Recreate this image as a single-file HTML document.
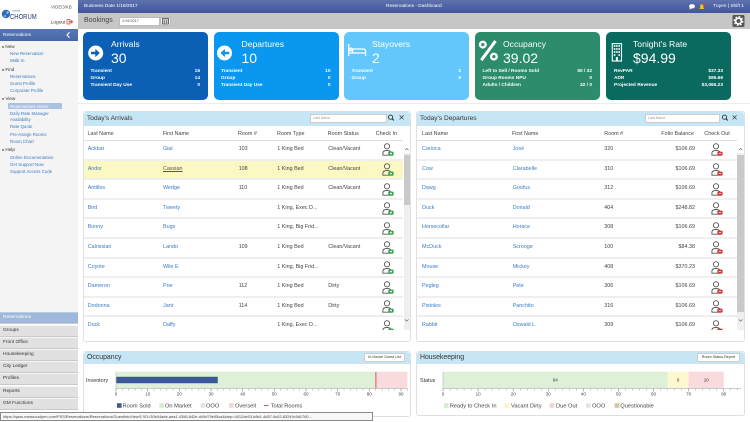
<!DOCTYPE html>
<html><head><meta charset="utf-8"><style>
*{box-sizing:border-box;margin:0;padding:0}
html,body{width:750px;height:422px;overflow:hidden}
body{position:relative;font-family:"Liberation Sans",Arial,sans-serif;background:#fff;color:#333}
.a{position:absolute;white-space:nowrap}
.sb{position:absolute;left:10px;font-size:4.4px;line-height:7px;color:#3b7bc4;white-space:nowrap}
.sh{position:absolute;left:2px;font-size:4.6px;line-height:7px;color:#333;white-space:nowrap}
.sh i{font-style:normal;font-weight:bold;margin-right:1.2px;font-size:4px}
.bm{position:absolute;left:0;width:78px;height:12.2px;background:#e1e1e1;border-top:1px solid #f4f4f4;border-bottom:1px solid #c9c9c9;font-size:4.8px;line-height:10px;padding-left:3px;color:#333}
.card{position:absolute;top:32px;width:125px;height:68px;border-radius:5px;color:#fff}
.ct{position:absolute;left:28px;top:7px;font-size:8.6px;line-height:10px;white-space:nowrap}
.cn{position:absolute;left:28px;top:19px;font-size:14px;line-height:14px}
.cr{position:absolute;left:7.5px;right:8px;font-size:4.8px;line-height:7px;font-weight:bold;height:7px;white-space:nowrap}
.cr b{position:absolute;right:0;top:0}
.pn{position:absolute;border:1px solid #e0e0e0;border-radius:3px;background:#fff}
.pt{position:absolute;left:0;top:0;right:0;height:13.4px;background:#c6e6f6;border-radius:3px 3px 0 0}
.ptt{position:absolute;left:3px;top:2.8px;font-size:6.6px;line-height:8px;color:#333;white-space:nowrap}
.srch{position:absolute;height:8.5px;background:#fff;border:1px solid #ccc;font-size:3.6px;line-height:6.5px;color:#999;padding-left:2px}
.ch{position:absolute;top:130.5px;font-size:5.4px;line-height:7px;color:#444;white-space:nowrap}
.tb{position:absolute;top:141px;height:189px;overflow:hidden}
.r{position:absolute;left:0;height:19.6px;border-bottom:2px solid #efefef;font-size:5.4px;line-height:17.6px;color:#444}
.r span{position:absolute;top:0;white-space:nowrap}
.l{color:#3b7cc6}
.pi{position:absolute;top:2.4px}
.btn{position:absolute;height:8.5px;background:#fff;border:1px solid #ccc;border-radius:1.5px;font-size:3.7px;line-height:6.5px;text-align:center;color:#333}
</style></head><body>

<!-- logo area -->
<svg class="a" style="left:0;top:0" width="78" height="29">
<circle cx="6" cy="14" r="4.2" fill="#2d6cb9"/>
<circle cx="7.5" cy="12.5" r="1.3" fill="#8fbde8"/>
<circle cx="5" cy="16" r="1" fill="#8fbde8"/>
<text x="12" y="11.5" font-size="2.8" fill="#3a7bc4" font-family="Liberation Sans">maxial</text>
<text x="10" y="19.2" font-size="7.6" fill="#22386e" font-family="Liberation Sans" textLength="26.7" lengthAdjust="spacingAndGlyphs">CHORUM</text>
<text x="51" y="8.3" font-size="4.4" fill="#555" font-family="Liberation Sans">VIDEO/KB</text>
<text x="50.7" y="23.6" font-size="4.8" fill="#333" font-family="Liberation Sans">Logout</text>
<rect x="67" y="19.5" width="3" height="4.5" fill="none" stroke="#d33" stroke-width=".7"/>
<path d="M68.5 21.8h4M71.2 20.4l1.4 1.4-1.4 1.4" fill="none" stroke="#d33" stroke-width=".8"/>
</svg>

<!-- top bars -->
<div class="a" style="left:78px;top:0;width:672px;height:12.7px;background:linear-gradient(#5d72ae,#40569a)"></div>
<div class="a" style="left:78px;top:12.7px;width:672px;height:16.6px;background:#c6c6c6"></div>
<div class="a" style="left:84px;top:3px;font-size:4.8px;line-height:7px;color:#fff">Business Date 1/19/2017</div>
<div class="a" style="left:386px;top:3px;font-size:4.8px;line-height:7px;color:#fff">Reservations - Dashboard</div>
<div class="a" style="left:713.3px;top:3px;font-size:4.8px;line-height:7px;color:#fff">Tuyen | Shift 1</div>
<div class="a" style="left:84px;top:17px;font-size:7px;line-height:8px;color:#444">Bookings</div>
<div class="a" style="left:119px;top:16.7px;width:41px;height:9px;background:#fff;border:1px solid #bbb;font-size:3.8px;line-height:7px;color:#555;padding-left:2px">1/19/2017</div>
<div class="a" style="left:160px;top:16.7px;width:11px;height:9px;background:#eee;border:1px solid #bbb"></div>
<div class="a" style="left:78px;top:103px;width:672px;height:1px;background:#ececec"></div>

<!-- sidebar -->
<div class="a" style="left:0;top:29.3px;width:78px;height:11.4px;background:linear-gradient(#5676b4,#4767a8)"></div>
<div class="a" style="left:3px;top:31.5px;font-size:4.8px;line-height:7px;color:#fff">Reservations</div>
<div class="a" style="left:0;top:40.7px;width:78px;height:271.6px;background:#f4f4f4"></div>
<div class="a" style="left:8px;top:102.7px;width:54.3px;height:6.6px;background:#a9c1e2;border-radius:1px"></div>

<div class="sh" style="top:43.2px"><i>v</i>New</div>
<div class="sb" style="top:49.8px">New Reservation</div>
<div class="sb" style="top:57.2px">Walk In</div>
<div class="sh" style="top:65.8px"><i>v</i>Find</div>
<div class="sb" style="top:72.5px">Reservations</div>
<div class="sb" style="top:79.5px">Guest Profile</div>
<div class="sb" style="top:86.5px">Corporate Profile</div>
<div class="sh" style="top:95.2px"><i>v</i>View</div>
<div class="sb" style="top:102.5px;color:#fff">Reservations Home</div>
<div class="sb" style="top:109.5px">Daily Rate Manager</div>
<div class="sb" style="top:116.2px">Availability</div>
<div class="sb" style="top:123.2px">Rate Quote</div>
<div class="sb" style="top:130.5px">Pre-Assign Rooms</div>
<div class="sb" style="top:137.5px">Room Chart</div>
<div class="sh" style="top:146.2px"><i>v</i>Help</div>
<div class="sb" style="top:153.5px">Online Documentation</div>
<div class="sb" style="top:160.5px">Get Support Now</div>
<div class="sb" style="top:167.5px">Support Access Code</div>

<div class="bm" style="top:312.3px;background:#9fb9dc;color:#fff;border-top-color:#b8cce6">Reservations</div>
<div class="bm" style="top:324.5px">Groups</div>
<div class="bm" style="top:336.7px">Front Office</div>
<div class="bm" style="top:348.9px">Housekeeping</div>
<div class="bm" style="top:361.1px">City Ledger</div>
<div class="bm" style="top:373.3px">Profiles</div>
<div class="bm" style="top:385.5px">Reports</div>
<div class="bm" style="top:397.7px">GM Functions</div>

<!-- cards -->
<div class="card" style="left:83px;background:#0b5fb5">
 <div class="ct">Arrivals</div><div class="cn">30</div>
 <div class="cr" style="top:36.2px">Transient<b>16</b></div>
 <div class="cr" style="top:43.3px">Group<b>14</b></div>
 <div class="cr" style="top:50.2px">Transient Day Use<b>0</b></div>
</div>
<div class="card" style="left:213.5px;background:#0997ef">
 <div class="ct">Departures</div><div class="cn">10</div>
 <div class="cr" style="top:36.2px">Transient<b>10</b></div>
 <div class="cr" style="top:43.3px">Group<b>0</b></div>
 <div class="cr" style="top:50.2px">Transient Day Use<b>0</b></div>
</div>
<div class="card" style="left:344px;background:#64c7fc">
 <div class="ct">Stayovers</div><div class="cn">2</div>
 <div class="cr" style="top:36.2px">Transient<b>2</b></div>
 <div class="cr" style="top:43.3px">Group<b>0</b></div>
</div>
<div class="card" style="left:475px;background:#2c8c6b">
 <div class="ct">Occupancy</div><div class="cn">39.02</div>
 <div class="cr" style="top:36.2px">Left to Sell / Rooms Sold<b>50 / 32</b></div>
 <div class="cr" style="top:43.3px">Group Rooms NPU<b>0</b></div>
 <div class="cr" style="top:50.2px">Adults / Children<b>32 / 0</b></div>
</div>
<div class="card" style="left:606px;background:#0b6a5f">
 <div class="ct" style="left:27px">Tonight's Rate</div><div class="cn" style="left:27px">$94.99</div>
 <div class="cr" style="top:36.2px;left:8px">RevPAR<b>$37.33</b></div>
 <div class="cr" style="top:43.3px;left:8px">ADR<b>$95.66</b></div>
 <div class="cr" style="top:50.2px;left:8px">Projected Revenue<b>$3,065.23</b></div>
</div>

<!-- Arrivals panel -->
<div class="pn" style="left:83px;top:111.3px;width:328px;height:230.5px">
 <div class="pt"><div class="ptt">Today's Arrivals</div></div>
</div>
<div class="srch" style="left:310px;top:114px;width:77.3px">Last Name</div>
<div class="ch" style="left:87.5px">Last Name</div>
<div class="ch" style="left:162.7px">First Name</div>
<div class="ch" style="left:238px">Room #</div>
<div class="ch" style="left:277px">Room Type</div>
<div class="ch" style="left:327.7px">Room Status</div>
<div class="ch" style="left:375.7px">Check In</div>
<div class="a" style="left:84px;top:140px;width:319px;height:1px;background:#ddd"></div>

<div class="tb" style="left:84px;width:319px">
<div class="r" style="top:0;width:319px"><span class="l" style="left:3.7px">Ackbar</span><span class="l" style="left:79px">Gial</span><span style="left:154.7px">103</span><span style="left:193.3px">1 King Bed</span><span style="left:244.3px">Clean/Vacant</span><svg class="pi" style="left:297.5px" width="12" height="13" viewBox="0 0 12 13"><circle cx="5" cy="3.3" r="2.6" fill="none" stroke="#555" stroke-width=".9"/><path d="M.9 12.2V10.2Q.9 7.5 5 7.5T9.1 10.2V12.2Z" fill="none" stroke="#555" stroke-width=".9"/><rect x="6.3" y="8.6" width="5.3" height="4" rx=".9" fill="#2e9e48"/><path d="M8.95 9.4v2.4M7.75 10.6h2.4" stroke="#fff" stroke-width=".7"/></svg></div>
<div class="r" style="top:19.6px;width:319px;background:#fcf8c4"><span class="l" style="left:3.7px">Andor</span><span style="left:79px;color:#555;text-decoration:underline">Cassian</span><span style="left:154.7px">108</span><span style="left:193.3px">1 King Bed</span><span style="left:244.3px">Clean/Vacant</span><svg class="pi" style="left:297.5px" width="12" height="13" viewBox="0 0 12 13"><circle cx="5" cy="3.3" r="2.6" fill="none" stroke="#555" stroke-width=".9"/><path d="M.9 12.2V10.2Q.9 7.5 5 7.5T9.1 10.2V12.2Z" fill="none" stroke="#555" stroke-width=".9"/><rect x="6.3" y="8.6" width="5.3" height="4" rx=".9" fill="#2e9e48"/><path d="M8.95 9.4v2.4M7.75 10.6h2.4" stroke="#fff" stroke-width=".7"/></svg></div>
<div class="r" style="top:39.2px;width:319px"><span class="l" style="left:3.7px">Antilles</span><span class="l" style="left:79px">Wedge</span><span style="left:154.7px">110</span><span style="left:193.3px">1 King Bed</span><span style="left:244.3px">Clean/Vacant</span><svg class="pi" style="left:297.5px" width="12" height="13" viewBox="0 0 12 13"><circle cx="5" cy="3.3" r="2.6" fill="none" stroke="#555" stroke-width=".9"/><path d="M.9 12.2V10.2Q.9 7.5 5 7.5T9.1 10.2V12.2Z" fill="none" stroke="#555" stroke-width=".9"/><rect x="6.3" y="8.6" width="5.3" height="4" rx=".9" fill="#2e9e48"/><path d="M8.95 9.4v2.4M7.75 10.6h2.4" stroke="#fff" stroke-width=".7"/></svg></div>
<div class="r" style="top:58.8px;width:319px"><span class="l" style="left:3.7px">Bird</span><span class="l" style="left:79px">Tweety</span><span style="left:193.3px">1 King, Exec D...</span><svg class="pi" style="left:297.5px" width="12" height="13" viewBox="0 0 12 13"><circle cx="5" cy="3.3" r="2.6" fill="none" stroke="#555" stroke-width=".9"/><path d="M.9 12.2V10.2Q.9 7.5 5 7.5T9.1 10.2V12.2Z" fill="none" stroke="#555" stroke-width=".9"/><rect x="6.3" y="8.6" width="5.3" height="4" rx=".9" fill="#2e9e48"/><path d="M8.95 9.4v2.4M7.75 10.6h2.4" stroke="#fff" stroke-width=".7"/></svg></div>
<div class="r" style="top:78.4px;width:319px"><span class="l" style="left:3.7px">Bunny</span><span class="l" style="left:79px">Bugs</span><span style="left:193.3px">1 King, Big Frid...</span><svg class="pi" style="left:297.5px" width="12" height="13" viewBox="0 0 12 13"><circle cx="5" cy="3.3" r="2.6" fill="none" stroke="#555" stroke-width=".9"/><path d="M.9 12.2V10.2Q.9 7.5 5 7.5T9.1 10.2V12.2Z" fill="none" stroke="#555" stroke-width=".9"/><rect x="6.3" y="8.6" width="5.3" height="4" rx=".9" fill="#2e9e48"/><path d="M8.95 9.4v2.4M7.75 10.6h2.4" stroke="#fff" stroke-width=".7"/></svg></div>
<div class="r" style="top:98px;width:319px"><span class="l" style="left:3.7px">Calrissian</span><span class="l" style="left:79px">Lando</span><span style="left:154.7px">109</span><span style="left:193.3px">1 King Bed</span><span style="left:244.3px">Clean/Vacant</span><svg class="pi" style="left:297.5px" width="12" height="13" viewBox="0 0 12 13"><circle cx="5" cy="3.3" r="2.6" fill="none" stroke="#555" stroke-width=".9"/><path d="M.9 12.2V10.2Q.9 7.5 5 7.5T9.1 10.2V12.2Z" fill="none" stroke="#555" stroke-width=".9"/><rect x="6.3" y="8.6" width="5.3" height="4" rx=".9" fill="#2e9e48"/><path d="M8.95 9.4v2.4M7.75 10.6h2.4" stroke="#fff" stroke-width=".7"/></svg></div>
<div class="r" style="top:117.6px;width:319px"><span class="l" style="left:3.7px">Coyote</span><span class="l" style="left:79px">Wile E</span><span style="left:193.3px">1 King, Big Frid...</span><svg class="pi" style="left:297.5px" width="12" height="13" viewBox="0 0 12 13"><circle cx="5" cy="3.3" r="2.6" fill="none" stroke="#555" stroke-width=".9"/><path d="M.9 12.2V10.2Q.9 7.5 5 7.5T9.1 10.2V12.2Z" fill="none" stroke="#555" stroke-width=".9"/><rect x="6.3" y="8.6" width="5.3" height="4" rx=".9" fill="#2e9e48"/><path d="M8.95 9.4v2.4M7.75 10.6h2.4" stroke="#fff" stroke-width=".7"/></svg></div>
<div class="r" style="top:137.2px;width:319px"><span class="l" style="left:3.7px">Dameron</span><span class="l" style="left:79px">Poe</span><span style="left:154.7px">112</span><span style="left:193.3px">1 King Bed</span><span style="left:244.3px">Dirty</span><svg class="pi" style="left:297.5px" width="12" height="13" viewBox="0 0 12 13"><circle cx="5" cy="3.3" r="2.6" fill="none" stroke="#555" stroke-width=".9"/><path d="M.9 12.2V10.2Q.9 7.5 5 7.5T9.1 10.2V12.2Z" fill="none" stroke="#555" stroke-width=".9"/><rect x="6.3" y="8.6" width="5.3" height="4" rx=".9" fill="#2e9e48"/><path d="M8.95 9.4v2.4M7.75 10.6h2.4" stroke="#fff" stroke-width=".7"/></svg></div>
<div class="r" style="top:156.8px;width:319px"><span class="l" style="left:3.7px">Dodonna</span><span class="l" style="left:79px">Jant</span><span style="left:154.7px">114</span><span style="left:193.3px">1 King Bed</span><span style="left:244.3px">Dirty</span><svg class="pi" style="left:297.5px" width="12" height="13" viewBox="0 0 12 13"><circle cx="5" cy="3.3" r="2.6" fill="none" stroke="#555" stroke-width=".9"/><path d="M.9 12.2V10.2Q.9 7.5 5 7.5T9.1 10.2V12.2Z" fill="none" stroke="#555" stroke-width=".9"/><rect x="6.3" y="8.6" width="5.3" height="4" rx=".9" fill="#2e9e48"/><path d="M8.95 9.4v2.4M7.75 10.6h2.4" stroke="#fff" stroke-width=".7"/></svg></div>
<div class="r" style="top:176.4px;width:319px"><span class="l" style="left:3.7px">Duck</span><span class="l" style="left:79px">Daffy</span><span style="left:193.3px">1 King, Exec D...</span><svg class="pi" style="left:297.5px" width="12" height="13" viewBox="0 0 12 13"><circle cx="5" cy="3.3" r="2.6" fill="none" stroke="#555" stroke-width=".9"/><path d="M.9 12.2V10.2Q.9 7.5 5 7.5T9.1 10.2V12.2Z" fill="none" stroke="#555" stroke-width=".9"/><rect x="6.3" y="8.6" width="5.3" height="4" rx=".9" fill="#2e9e48"/><path d="M8.95 9.4v2.4M7.75 10.6h2.4" stroke="#fff" stroke-width=".7"/></svg></div>
</div>

<!-- Departures panel -->
<div class="pn" style="left:416px;top:111.3px;width:329px;height:230.5px">
 <div class="pt"><div class="ptt">Today's Departures</div></div>
</div>
<div class="srch" style="left:645px;top:114px;width:75px">Last Name</div>
<div class="ch" style="left:422px">Last Name</div>
<div class="ch" style="left:512px">First Name</div>
<div class="ch" style="left:604.3px">Room #</div>
<div class="ch" style="left:661.3px">Folio Balance</div>
<div class="ch" style="left:704.3px">Check Out</div>
<div class="a" style="left:417px;top:140px;width:320px;height:1px;background:#ddd"></div>

<div class="tb" style="left:417px;width:320px">
<div class="r" style="top:0;width:320px"><span class="l" style="left:5px">Carioca</span><span class="l" style="left:95.7px">José</span><span style="left:187.3px">320</span><span style="right:42px">$106.69</span><svg class="pi" style="left:294px" width="12" height="13" viewBox="0 0 12 13"><circle cx="5" cy="3.3" r="2.6" fill="none" stroke="#555" stroke-width=".9"/><path d="M.9 12.2V10.2Q.9 7.5 5 7.5T9.1 10.2V12.2Z" fill="none" stroke="#555" stroke-width=".9"/><rect x="6.3" y="8.6" width="5.3" height="4" rx=".9" fill="#d83838"/><path d="M7.75 10.6h2.4" stroke="#fff" stroke-width=".7"/></svg></div>
<div class="r" style="top:19.6px;width:320px"><span class="l" style="left:5px">Cow</span><span class="l" style="left:95.7px">Clarabelle</span><span style="left:187.3px">310</span><span style="right:42px">$106.69</span><svg class="pi" style="left:294px" width="12" height="13" viewBox="0 0 12 13"><circle cx="5" cy="3.3" r="2.6" fill="none" stroke="#555" stroke-width=".9"/><path d="M.9 12.2V10.2Q.9 7.5 5 7.5T9.1 10.2V12.2Z" fill="none" stroke="#555" stroke-width=".9"/><rect x="6.3" y="8.6" width="5.3" height="4" rx=".9" fill="#d83838"/><path d="M7.75 10.6h2.4" stroke="#fff" stroke-width=".7"/></svg></div>
<div class="r" style="top:39.2px;width:320px"><span class="l" style="left:5px">Dawg</span><span class="l" style="left:95.7px">Goofus</span><span style="left:187.3px">312</span><span style="right:42px">$106.69</span><svg class="pi" style="left:294px" width="12" height="13" viewBox="0 0 12 13"><circle cx="5" cy="3.3" r="2.6" fill="none" stroke="#555" stroke-width=".9"/><path d="M.9 12.2V10.2Q.9 7.5 5 7.5T9.1 10.2V12.2Z" fill="none" stroke="#555" stroke-width=".9"/><rect x="6.3" y="8.6" width="5.3" height="4" rx=".9" fill="#d83838"/><path d="M7.75 10.6h2.4" stroke="#fff" stroke-width=".7"/></svg></div>
<div class="r" style="top:58.8px;width:320px"><span class="l" style="left:5px">Duck</span><span class="l" style="left:95.7px">Donald</span><span style="left:187.3px">404</span><span style="right:42px">$248.82</span><svg class="pi" style="left:294px" width="12" height="13" viewBox="0 0 12 13"><circle cx="5" cy="3.3" r="2.6" fill="none" stroke="#555" stroke-width=".9"/><path d="M.9 12.2V10.2Q.9 7.5 5 7.5T9.1 10.2V12.2Z" fill="none" stroke="#555" stroke-width=".9"/><rect x="6.3" y="8.6" width="5.3" height="4" rx=".9" fill="#d83838"/><path d="M7.75 10.6h2.4" stroke="#fff" stroke-width=".7"/></svg></div>
<div class="r" style="top:78.4px;width:320px"><span class="l" style="left:5px">Horsecollar</span><span class="l" style="left:95.7px">Horace</span><span style="left:187.3px">308</span><span style="right:42px">$106.69</span><svg class="pi" style="left:294px" width="12" height="13" viewBox="0 0 12 13"><circle cx="5" cy="3.3" r="2.6" fill="none" stroke="#555" stroke-width=".9"/><path d="M.9 12.2V10.2Q.9 7.5 5 7.5T9.1 10.2V12.2Z" fill="none" stroke="#555" stroke-width=".9"/><rect x="6.3" y="8.6" width="5.3" height="4" rx=".9" fill="#d83838"/><path d="M7.75 10.6h2.4" stroke="#fff" stroke-width=".7"/></svg></div>
<div class="r" style="top:98px;width:320px"><span class="l" style="left:5px">McDuck</span><span class="l" style="left:95.7px">Scrooge</span><span style="left:187.3px">100</span><span style="right:42px">$84.38</span><svg class="pi" style="left:294px" width="12" height="13" viewBox="0 0 12 13"><circle cx="5" cy="3.3" r="2.6" fill="none" stroke="#555" stroke-width=".9"/><path d="M.9 12.2V10.2Q.9 7.5 5 7.5T9.1 10.2V12.2Z" fill="none" stroke="#555" stroke-width=".9"/><rect x="6.3" y="8.6" width="5.3" height="4" rx=".9" fill="#d83838"/><path d="M7.75 10.6h2.4" stroke="#fff" stroke-width=".7"/></svg></div>
<div class="r" style="top:117.6px;width:320px"><span class="l" style="left:5px">Mouse</span><span class="l" style="left:95.7px">Mickey</span><span style="left:187.3px">408</span><span style="right:42px">$370.23</span><svg class="pi" style="left:294px" width="12" height="13" viewBox="0 0 12 13"><circle cx="5" cy="3.3" r="2.6" fill="none" stroke="#555" stroke-width=".9"/><path d="M.9 12.2V10.2Q.9 7.5 5 7.5T9.1 10.2V12.2Z" fill="none" stroke="#555" stroke-width=".9"/><rect x="6.3" y="8.6" width="5.3" height="4" rx=".9" fill="#d83838"/><path d="M7.75 10.6h2.4" stroke="#fff" stroke-width=".7"/></svg></div>
<div class="r" style="top:137.2px;width:320px"><span class="l" style="left:5px">Pegleg</span><span class="l" style="left:95.7px">Pete</span><span style="left:187.3px">306</span><span style="right:42px">$106.69</span><svg class="pi" style="left:294px" width="12" height="13" viewBox="0 0 12 13"><circle cx="5" cy="3.3" r="2.6" fill="none" stroke="#555" stroke-width=".9"/><path d="M.9 12.2V10.2Q.9 7.5 5 7.5T9.1 10.2V12.2Z" fill="none" stroke="#555" stroke-width=".9"/><rect x="6.3" y="8.6" width="5.3" height="4" rx=".9" fill="#d83838"/><path d="M7.75 10.6h2.4" stroke="#fff" stroke-width=".7"/></svg></div>
<div class="r" style="top:156.8px;width:320px"><span class="l" style="left:5px">Pistoles</span><span class="l" style="left:95.7px">Panchito</span><span style="left:187.3px">316</span><span style="right:42px">$106.69</span><svg class="pi" style="left:294px" width="12" height="13" viewBox="0 0 12 13"><circle cx="5" cy="3.3" r="2.6" fill="none" stroke="#555" stroke-width=".9"/><path d="M.9 12.2V10.2Q.9 7.5 5 7.5T9.1 10.2V12.2Z" fill="none" stroke="#555" stroke-width=".9"/><rect x="6.3" y="8.6" width="5.3" height="4" rx=".9" fill="#d83838"/><path d="M7.75 10.6h2.4" stroke="#fff" stroke-width=".7"/></svg></div>
<div class="r" style="top:176.4px;width:320px"><span class="l" style="left:5px">Rabbit</span><span class="l" style="left:95.7px">Oswald L</span><span style="left:187.3px">309</span><span style="right:42px">$106.69</span><svg class="pi" style="left:294px" width="12" height="13" viewBox="0 0 12 13"><circle cx="5" cy="3.3" r="2.6" fill="none" stroke="#555" stroke-width=".9"/><path d="M.9 12.2V10.2Q.9 7.5 5 7.5T9.1 10.2V12.2Z" fill="none" stroke="#555" stroke-width=".9"/><rect x="6.3" y="8.6" width="5.3" height="4" rx=".9" fill="#d83838"/><path d="M7.75 10.6h2.4" stroke="#fff" stroke-width=".7"/></svg></div>
</div>

<!-- scrollbars -->
<div class="a" style="left:403.5px;top:153px;width:6.5px;height:177px;background:#efefef"></div>
<div class="a" style="left:403.5px;top:155px;width:6.5px;height:50px;background:#c9c9c9"></div>
<div class="a" style="left:737.3px;top:153px;width:6.5px;height:177px;background:#efefef"></div>
<div class="a" style="left:737.3px;top:155px;width:6.5px;height:157px;background:#c9c9c9"></div>

<!-- bottom panels -->
<div class="pn" style="left:83px;top:350.5px;width:328px;height:66px">
 <div class="pt" style="height:12.8px"><div class="ptt" style="top:2.5px;font-size:6.9px">Occupancy</div></div>
</div>
<div class="btn" style="left:364px;top:353px;width:41px">In-House Guest List</div>
<div class="pn" style="left:416px;top:350.5px;width:329px;height:65px">
 <div class="pt" style="height:12.8px"><div class="ptt" style="top:2.5px;font-size:6.9px">Housekeeping</div></div>
</div>
<div class="btn" style="left:697px;top:353px;width:43px">Room Status Report</div>

<!-- vector overlay -->
<svg class="a" style="left:0;top:0" width="750" height="422" font-family="Liberation Sans, Arial, sans-serif">
<!-- header icons -->
<ellipse cx="692" cy="6.3" rx="3" ry="2.2" fill="#fff"/><path d="M690 7.8l-.8 1.8 2.4-1.2z" fill="#fff"/>
<path d="M699.3 9h5l-.9-1.2v-2a1.6 1.6 0 0 0-3.2 0v2z" fill="#f4c21a"/><circle cx="704" cy="4.5" r="1.2" fill="#e03a2a"/>
<rect x="732.5" y="15" width="12" height="12" rx="1.5" fill="#555"/>
<circle cx="738.5" cy="21" r="2.9" fill="none" stroke="#fff" stroke-width="1.8"/>
<circle cx="738.5" cy="21" r="4.2" fill="none" stroke="#fff" stroke-width="1.5" stroke-dasharray="1.6 1.7"/>
<!-- calendar -->
<rect x="162.5" y="18.5" width="6" height="5.5" fill="none" stroke="#333" stroke-width=".7"/><path d="M162.5 20h6M164.5 20v4M166.5 20v4M162.5 22h6" stroke="#333" stroke-width=".4"/>
<!-- sidebar chevron -->
<path d="M69.5 32.3l-2.5 2.7 2.5 2.7" fill="none" stroke="#fff" stroke-width="1.1"/>
<!-- card icons -->
<circle cx="95.7" cy="53" r="7.5" fill="#fff"/>
<path d="M91 51.7H95.3V48.9L99.8 53 95.3 57.1V54.3H91Z" fill="#0b5fb5"/>
<circle cx="224.5" cy="53" r="7.5" fill="#fff"/>
<path d="M229.2 51.7H224.9V48.9L220.4 53 224.9 57.1V54.3H229.2Z" fill="#0997ef"/>
<g fill="none" stroke="#fff" stroke-width="1.3"><path d="M348.7 44V56M348.7 53H365.6V56M352.6 53V49H363Q365.6 49 365.6 51.2V53"/><rect x="349.9" y="48.2" width="2.2" height="2.6" rx="1"/></g>
<g fill="none" stroke="#fff"><circle cx="482.8" cy="44.6" r="2.8" stroke-width="2.4"/><circle cx="493.9" cy="56.6" r="2.8" stroke-width="2.4"/><path d="M495.5 41L481.3 60.2" stroke-width="3"/></g>
<g fill="none" stroke="#fff" stroke-width="1.1"><rect x="612.3" y="43.6" width="9.2" height="17.4"/></g>
<g fill="#fff"><rect x="613.8" y="45.2" width="1.6" height="1.6"/><rect x="616.1" y="45.2" width="1.6" height="1.6"/><rect x="618.4" y="45.2" width="1.6" height="1.6"/><rect x="613.8" y="48.2" width="1.6" height="1.6"/><rect x="616.1" y="48.2" width="1.6" height="1.6"/><rect x="618.4" y="48.2" width="1.6" height="1.6"/><rect x="613.8" y="51.2" width="1.6" height="1.6"/><rect x="616.1" y="51.2" width="1.6" height="1.6"/><rect x="618.4" y="51.2" width="1.6" height="1.6"/><rect x="613.8" y="54.2" width="1.6" height="1.6"/><rect x="618.4" y="54.2" width="1.6" height="1.6"/><rect x="615.9" y="57" width="2" height="4"/></g>
<!-- search icons -->
<circle cx="390.6" cy="117.2" r="2.1" fill="none" stroke="#333" stroke-width=".9"/><path d="M392.1 118.7l1.8 1.8" stroke="#333" stroke-width="1.1"/>
<path d="M399.6 115.4l4 4M403.6 115.4l-4 4" stroke="#444" stroke-width=".8"/>
<circle cx="724.5" cy="117.2" r="2.1" fill="none" stroke="#333" stroke-width=".9"/><path d="M726 118.7l1.8 1.8" stroke="#333" stroke-width="1.1"/>
<path d="M732.6 115.4l4 4M736.6 115.4l-4 4" stroke="#444" stroke-width=".8"/>
<!-- scroll arrows -->
<path d="M405 150.2l1.8-1.8 1.8 1.8M405 319.4l1.8 1.8 1.8-1.8" fill="none" stroke="#555" stroke-width=".6"/>
<path d="M738.8 150.2l1.8-1.8 1.8 1.8M738.8 319.4l1.8 1.8 1.8-1.8" fill="none" stroke="#555" stroke-width=".6"/>

<!-- Occupancy chart -->
<text x="86" y="381.9" font-size="5.4" fill="#333">Inventory</text>
<rect x="116" y="371.7" width="259.7" height="16.3" fill="#dff0d8"/>
<rect x="376.2" y="371.7" width="31.2" height="16.3" fill="#f9dadd"/>
<line x1="375.9" y1="371.7" x2="375.9" y2="388" stroke="#e0474c" stroke-width=".9"/>
<rect x="116.5" y="377" width="101" height="6" fill="#3c5a9a" stroke="#2c4580" stroke-width=".4"/>
<line x1="116" y1="371.7" x2="116" y2="388.5" stroke="#aaa" stroke-width=".5"/>
<line x1="116" y1="388.5" x2="407.4" y2="388.5" stroke="#999" stroke-width=".5"/>
<line x1="115.75" y1="389.5" x2="408" y2="389.5" stroke="#999" stroke-width="2" stroke-dasharray="0.5 5.833"/>
<line x1="115.75" y1="390" x2="402" y2="390" stroke="#888" stroke-width="3" stroke-dasharray="0.5 31.167"/>
<g font-size="4.5" fill="#444" text-anchor="middle">
<text x="116" y="395.6">0</text><text x="147.7" y="395.6">10</text><text x="179.3" y="395.6">20</text><text x="211" y="395.6">30</text><text x="242.7" y="395.6">40</text><text x="274.3" y="395.6">50</text><text x="306" y="395.6">60</text><text x="337.7" y="395.6">70</text><text x="369.3" y="395.6">80</text><text x="401" y="395.6">90</text>
</g>
<g font-size="5.7" fill="#444">
<rect x="117" y="403.2" width="4.6" height="4.6" fill="#3c5a9a"/><text x="122.5" y="407.7">Room Sold</text>
<rect x="159.3" y="403.2" width="4.6" height="4.6" fill="#d6edcb"/><text x="165" y="407.7">On Market</text>
<rect x="200.7" y="403.2" width="4.6" height="4.6" fill="#e3e3e3"/><text x="206" y="407.7">OOO</text>
<rect x="229" y="403.2" width="4.6" height="4.6" fill="#f8d2d6"/><text x="235" y="407.7">Oversell</text>
<line x1="264" y1="405.5" x2="268.5" y2="405.5" stroke="#e0474c" stroke-width=".9"/><text x="270.7" y="407.7">Total Rooms</text>
</g>

<!-- Housekeeping chart -->
<text x="420" y="381.9" font-size="5.4" fill="#333">Status</text>
<rect x="443" y="371.7" width="224.6" height="16.3" fill="#dff0d8"/>
<rect x="667.6" y="371.7" width="21" height="16.3" fill="#fcf8cf"/>
<rect x="688.6" y="371.7" width="35.1" height="16.3" fill="#f9dadd"/>
<line x1="443" y1="371.7" x2="443" y2="388.5" stroke="#aaa" stroke-width=".5"/>
<line x1="443" y1="388.5" x2="741" y2="388.5" stroke="#999" stroke-width=".5"/>
<line x1="442.75" y1="389.5" x2="741" y2="389.5" stroke="#999" stroke-width="2" stroke-dasharray="0.5 6.518"/>
<line x1="442.75" y1="390" x2="725" y2="390" stroke="#888" stroke-width="3" stroke-dasharray="0.5 34.59"/>
<g font-size="4.5" fill="#333" text-anchor="middle">
<text x="555.3" y="381.6">64</text><text x="678.1" y="381.6">6</text><text x="706.2" y="381.6">10</text>
</g>
<g font-size="4.5" fill="#444" text-anchor="middle">
<text x="443" y="395.6">0</text><text x="478.1" y="395.6">10</text><text x="513.2" y="395.6">20</text><text x="548.3" y="395.6">30</text><text x="583.4" y="395.6">40</text><text x="618.5" y="395.6">50</text><text x="653.5" y="395.6">60</text><text x="688.6" y="395.6">70</text><text x="723.7" y="395.6">80</text>
</g>
<g font-size="5.7" fill="#444">
<rect x="444" y="403.2" width="4.6" height="4.6" fill="#d6edcb"/><text x="449.7" y="407.7">Ready to Check In</text>
<rect x="504.7" y="403.2" width="4.6" height="4.6" fill="#fcf5c0"/><text x="511" y="407.7">Vacant Dirty</text>
<rect x="549.7" y="403.2" width="4.6" height="4.6" fill="#f8d2d6"/><text x="556" y="407.7">Due Out</text>
<rect x="586" y="403.2" width="4.6" height="4.6" fill="#e3e3e3"/><text x="592" y="407.7">OOO</text>
<rect x="614.7" y="403.2" width="4.6" height="4.6" fill="#d8c39a"/><text x="620.3" y="407.7">Questionable</text>
</g>
</svg>

<!-- status URL tooltip -->
<div class="a" style="left:0;top:412px;width:373px;height:9px;background:#f8f8f8;border:1px solid #8a8a8a;font-size:3.9px;line-height:7px;color:#444;padding-left:2px;overflow:hidden">https://qaos.maxisoudprm.com/PSS/Reservations/Reservations/GuestInfoView/1?ID=30b04ade-aea1-4396-842e-d49d79e05ca&amp;step=4012de53-b8b1-4d57-9c02-83249c5d1760...</div>
</body></html>
